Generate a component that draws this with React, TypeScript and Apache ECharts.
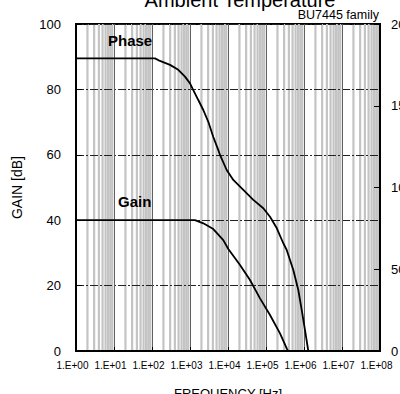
import React, { useEffect, useRef } from 'react';
import * as echarts from 'echarts';

const FONT = '"Liberation Sans", Arial, sans-serif';

// Phase curve (right axis, degrees)
const phaseFreq = [1, 120, 162, 298, 492, 738, 1000, 1222, 1653, 2239, 3033, 4105, 5559, 6154, 9240, 13780, 25280, 46370, 84970, 127400, 191400, 285300, 350500, 522900, 707900, 869900, 1063000, 1297000];
const phaseDeg = [179, 179, 177.4, 175, 172, 167.8, 163.7, 159.6, 153.5, 147.4, 140.2, 130.9, 122.9, 119.9, 110.7, 104.6, 98.5, 92.4, 87.3, 82.1, 75.2, 65.9, 61.8, 49.5, 37.3, 25.1, 12.8, 0];

// Gain curve (left axis, dB)
const gainFreq = [1, 1350, 2239, 4105, 7516, 10190, 20700, 37930, 69500, 127400, 233500, 350500, 380000];
const gainDb = [40, 40, 39.05, 37.3, 33.9, 31.2, 26.3, 21.7, 16.1, 11.0, 5.4, 0.8, 0];

// Log grid: decades and minor multipliers
const decadeExponents = [0, 1, 2, 3, 4, 5, 6, 7];
const minorMultipliers = [2, 3, 4, 5, 6, 7, 8, 9];
const minorFreq: number[] = [];
decadeExponents.forEach((e) => minorMultipliers.forEach((m) => minorFreq.push(m * Math.pow(10, e))));

const titleText = 'Ambient Temperature';
const subtitleText = 'BU7445 family';
const xName = 'FREQUENCY [Hz]';
const yName = 'GAIN [dB]';

export default function App() {
  const ref = useRef<HTMLDivElement>(null);
  useEffect(() => {
    if (!ref.current) return;
    const chart = echarts.init(ref.current, null, { renderer: 'svg' });
    const option: any = {
      animation: false,
      backgroundColor: '#ffffff',
      grid: {
        left: 76, right: 20, top: 24, bottom: 43,
        outerBoundsMode: 'none', containLabel: false,
        show: true, borderColor: '#000', borderWidth: 2, backgroundColor: 'transparent',
      },
      graphic: [
        { type: 'text', x: 240, y: 0, z: 10, style: { text: titleText, fontSize: 20, fontFamily: FONT, fill: '#000', align: 'center', verticalAlign: 'middle' } },
        { type: 'text', x: 379, y: 15, z: 10, style: { text: subtitleText, fontSize: 12.5, fontFamily: FONT, fill: '#000', align: 'right', verticalAlign: 'middle' } },
        { type: 'text', x: 108, y: 40, z: 10, style: { text: 'Phase', fontSize: 15, fontWeight: 'bold', fontFamily: FONT, fill: '#000', align: 'left', verticalAlign: 'middle' } },
        { type: 'text', x: 118, y: 201, z: 10, style: { text: 'Gain', fontSize: 15, fontWeight: 'bold', fontFamily: FONT, fill: '#000', align: 'left', verticalAlign: 'middle' } },
      ],
      xAxis: {
        type: 'log',
        logBase: 10,
        min: 1,
        max: 1e8,
        splitNumber: 8,
        z: 3,
        name: xName,
        nameLocation: 'middle',
        nameGap: 36,
        nameTextStyle: { fontSize: 13, fontFamily: FONT, color: '#000' },
        axisLine: { lineStyle: { color: '#000', width: 2 } },
        axisTick: { inside: true, length: 4, lineStyle: { color: '#000', width: 1 } },
        axisLabel: {
          fontSize: 10,
          fontFamily: FONT,
          color: '#000',
          margin: 9,
          padding: [0, 7, 0, 0],
          hideOverlap: false,
          formatter: (v: number) => {
            const e = Math.round(Math.log10(v));
            return '1.E+' + (e < 10 ? '0' + e : String(e));
          },
        },
        splitLine: { show: true, lineStyle: { color: '#606060', width: 1 } },
      },
      yAxis: [
        {
          type: 'value',
          min: 0,
          max: 100,
          interval: 20,
          z: 3,
          name: yName,
          nameLocation: 'middle',
          nameGap: 52,
          nameTextStyle: { fontSize: 14, fontFamily: FONT, color: '#000' },
          axisLine: { show: true, lineStyle: { color: '#000', width: 2 } },
          axisTick: { show: true, inside: true, length: 6, lineStyle: { color: '#000' } },
          axisLabel: { fontSize: 13, fontFamily: FONT, color: '#000', margin: 15 },
          splitLine: { show: true, lineStyle: { color: '#222', width: 1, type: [8, 2, 2, 2] } },
        },
        {
          type: 'value',
          min: 0,
          max: 200,
          interval: 50,
          z: 3,
          position: 'right',
          axisLine: { show: true, lineStyle: { color: '#000', width: 2 } },
          axisTick: { show: true, inside: true, length: 6, lineStyle: { color: '#000' } },
          axisLabel: { fontSize: 13, fontFamily: FONT, color: '#000', margin: 11, align: 'left' },
          splitLine: { show: false },
        },
      ],
      series: [
        {
          type: 'custom',
          z: 1,
          silent: true,
          xAxisIndex: 0,
          yAxisIndex: 0,
          data: minorFreq.map((f) => [f, 0]),
          encode: { x: 0, y: 1 },
          renderItem: (params: any, api: any) => {
            const f = api.value(0);
            const p0 = api.coord([f, 0]);
            const p1 = api.coord([f, 100]);
            return {
              type: 'line',
              shape: { x1: p0[0], y1: p0[1], x2: p1[0], y2: p1[1] },
              style: { stroke: '#c4c4c4', lineWidth: 2.2 },
            };
          },
        },
        {
          type: 'line',
          name: 'Gain',
          z: 5,
          yAxisIndex: 0,
          showSymbol: false,
          symbol: 'none',
          data: gainFreq.map((f, i) => [f, gainDb[i]]),
          lineStyle: { color: '#000', width: 1.8 },
        },
        {
          type: 'line',
          name: 'Phase',
          z: 5,
          yAxisIndex: 1,
          showSymbol: false,
          symbol: 'none',
          data: phaseFreq.map((f, i) => [f, phaseDeg[i]]),
          lineStyle: { color: '#000', width: 1.8 },
        },
      ],
    };
    chart.setOption(option);
    return () => chart.dispose();
  }, []);
  return <div ref={ref} style={{ position: 'fixed', left: 0, top: 0, width: 400, height: 394 }} />;
}
